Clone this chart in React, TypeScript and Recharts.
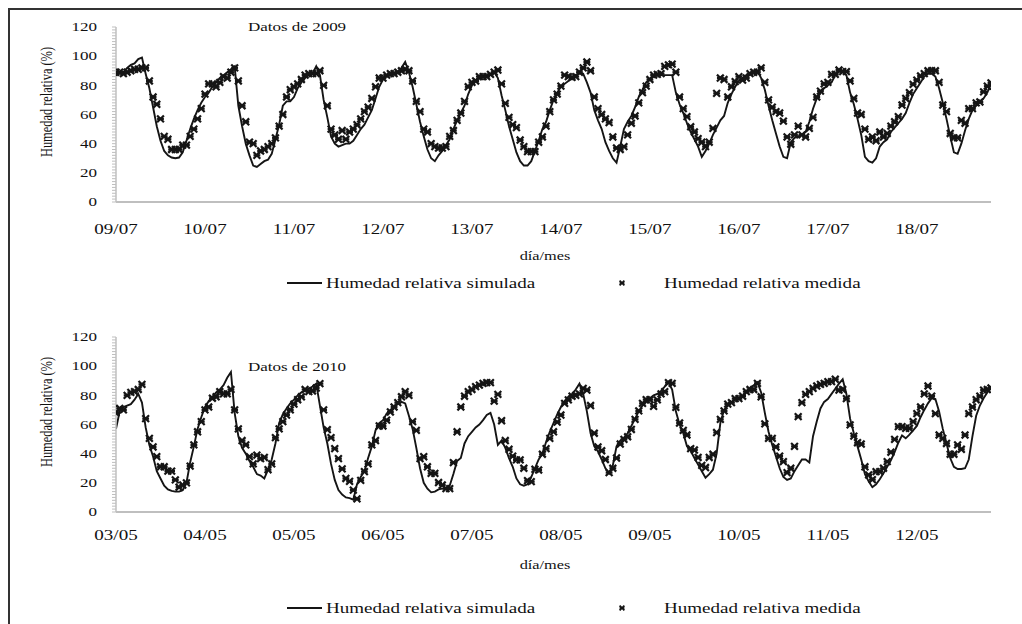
import React from "react";
import { LineChart, Line, XAxis, YAxis } from "recharts";

// hourly values, hour 0 = first day 00:00
const SIM_2009 = [
  89, 89, 89, 92, 94, 95, 98, 99, 88, 78,
  65, 52, 42, 35, 32, 30.5, 30, 30.5, 34, 42,
  50, 57, 63, 68, 72, 75, 79, 82, 85, 87,
  89, 91, 93, 66, 52, 40, 32, 25, 24, 26,
  28, 29, 33, 43, 53, 66, 69, 69, 72, 78,
  82, 85, 87, 88, 93, 87, 70, 58, 45, 40,
  38, 39, 40, 40, 42, 46, 50, 53, 58, 63,
  71, 79, 84, 86, 87, 88, 89, 92, 96, 89,
  79, 67, 55, 45, 36, 30, 28, 32, 35, 39,
  43, 50, 56, 61, 66, 74, 80, 83, 85, 86,
  87, 88, 89, 85, 73, 63, 52, 43, 34, 28,
  25, 25, 28, 35, 42, 50, 55, 63, 70, 75,
  79, 81, 83, 85, 87, 88, 88, 82, 75, 63,
  56, 50, 41, 35, 30, 27, 38, 50, 55, 59,
  65, 72, 77, 82, 84, 86, 87, 87, 87, 87,
  87, 75, 67, 61, 54, 48, 43, 38, 31, 35,
  40, 46, 51, 56, 59, 68, 74, 79, 83, 85,
  87, 88.5, 89.5, 90, 85, 77, 66, 56, 47, 38,
  31, 30, 41, 44, 45, 46, 48, 55, 64, 71,
  75, 78, 80, 82, 87, 89.5, 89.5, 87, 75, 67,
  57, 46, 31, 28, 27, 30, 38, 41, 43, 48,
  51, 54, 57, 61, 68, 74, 78, 82, 86, 88,
  88, 86, 78, 68, 57, 45, 34, 33, 40, 49,
  57, 63, 66, 69, 71, 75, 81,
];

const MED_2009 = [
  89, 89, 88, 89, 90, 91, 91, 92, 92, 83,
  72, 67, 57, 45, 43, 36, 36, 36, 39, 39,
  45, 50, 57, 64, 74, 81, 81, 79, 82, 86,
  85, 89, 92, 83, 66, 55, 41, 40, 32, 35,
  36, 38, 40, 44, 52, 60, 72, 77, 79, 81,
  84, 87, 88, 88, 88, 90, 80, 66, 50, 46,
  43, 49, 43, 48, 50, 53, 57, 62, 65, 71,
  79, 85, 85, 87, 88, 88, 89, 90, 91, 90,
  83, 69, 62, 50, 48, 40, 38, 37, 37, 38,
  45, 49, 56, 61, 69, 79, 82, 83, 86, 86,
  86, 87.5, 89, 90.5, 81, 67.6, 58, 53, 51, 42.5,
  38, 34.5, 34.5, 34.5, 41, 44.6, 52, 62, 70, 74,
  79.5, 87, 86, 85.5, 86, 89, 92, 96, 90, 72,
  64, 60, 57, 54.5, 44.6, 37, 36, 38, 46, 54,
  59, 68, 75, 79.5, 84, 87, 87.5, 88, 93, 94,
  94.5, 89, 72, 64, 58.5, 51.6, 48, 43.5, 41, 38,
  41, 50.5, 74.5, 85, 84, 72, 79, 82.5, 86, 83.6,
  85, 88, 89, 89, 92, 82, 70, 65, 62, 61,
  55.5, 44.6, 39.6, 46, 52, 46, 44.6, 50.5, 58, 72,
  76, 81, 82, 87.5, 87.5, 90.5, 89.4, 89.4, 83, 71,
  61, 60, 50, 43, 44.6, 42, 48, 44.6, 47, 52,
  55, 58.5, 66.5, 71, 75, 80.7, 83.6, 86.4, 88, 90,
  90, 90, 82, 66.5, 62, 47, 44, 44, 56, 54,
  64, 64, 68, 68.6, 75.5, 79.4, 81.7,
];

const SIM_2010 = [
  57, 69, 72, 73, 74, 77, 81, 75, 58, 46,
  38, 28, 23, 18, 15.5, 14.5, 14, 14, 15, 20,
  34, 45, 57, 65, 72, 76, 79, 82, 84, 87,
  92, 96, 68, 52, 44, 40, 35, 31, 26, 25,
  23, 29, 36, 47, 61, 67, 71, 74.5, 77, 80,
  82, 83, 84.5, 86, 88, 73, 58, 47, 33, 22,
  15, 12, 10, 9.5, 8.5, 19, 24, 28, 37, 45,
  56, 61, 63, 67.5, 70, 72, 74, 75.5, 74.5, 66,
  57, 44, 30, 20, 16, 13.5, 14, 15.5, 16, 16,
  18, 26, 35, 37, 47, 52, 55, 58, 60, 63,
  66.5, 68, 60, 46, 49, 44, 37, 31, 23, 19,
  18, 19, 24, 30, 36, 40, 48, 55, 61, 67,
  72, 76, 79, 81, 84, 88, 81, 69, 54, 45,
  41.5, 36, 30, 26.5, 32, 45, 49, 51, 54, 59,
  64, 69, 73, 76, 78, 80, 81, 83, 86, 89,
  84, 69, 60, 54, 45, 42, 37, 32.5, 28, 23.5,
  26, 29, 40, 61, 70, 73, 75, 77, 78, 79,
  82, 85, 87, 89, 82, 68, 55, 46, 38, 30,
  24, 22, 23, 28, 32, 36, 36, 34, 52, 62,
  71, 75.5, 77.5, 81, 84.5, 88, 91, 81, 64, 54,
  45, 36, 26, 21, 17, 19, 22.5, 26.5, 31, 35.5,
  41, 47.5, 52.5, 50.5, 53, 56, 59, 65, 70, 74.5,
  78, 77.5, 69, 57, 47, 37, 31, 29.5, 29.5, 30,
  36, 52, 66, 73, 78, 82, 86,
];

const MED_2010 = [
  68, 71, 70, 80, 82, 82.5, 84, 87.5, 64, 50.5,
  44.6, 38, 31, 31, 28, 28, 22, 17, 18.5, 20,
  31.5, 46, 55, 62, 70, 72, 78, 79, 82.5, 81,
  81, 84, 70, 57, 49, 46, 38, 33, 39, 36.6,
  37.4, 29, 33, 51, 57, 62, 66.5, 70, 74, 77,
  79, 84, 82.5, 83, 85, 88, 70, 56.5, 51, 43.5,
  36.6, 29.6, 23, 21, 15, 9, 21.7, 27.7, 33, 46,
  49, 59, 59, 63, 68.6, 72, 75, 79, 82.5, 80,
  62, 56, 36.6, 37.9, 31, 26.5, 26.5, 20.2, 18.5, 16,
  16, 33.9, 55, 72, 79.4, 82.5, 84, 86, 87, 88.2,
  88.7, 88.7, 76, 80.7, 62.6, 49, 43, 38.3, 35.7, 35.7,
  30, 21.5, 20.8, 29.3, 28.8, 39.6, 43.5, 50.5, 55, 61.7,
  66.5, 74.5, 76.9, 79.4, 80, 81, 84.8, 83.6, 73, 54,
  44.6, 42, 36, 27, 30, 37, 46.6, 49.8, 51.6, 56.6,
  63.5, 69.3, 74.5, 77, 77, 72.5, 76.9, 81, 82.5, 88.7,
  88.2, 71.7, 61, 56, 52.8, 43.5, 42.5, 37.4, 32, 30.5,
  37.4, 39.6, 54.5, 63.5, 69.3, 74, 75, 77.7, 77.7, 79.4,
  82.5, 84, 84, 88.2, 79, 60.4, 50.5, 50.5, 44.6, 38.3,
  34.5, 27, 30, 45, 65.4, 75, 80.7, 82.5, 84.8, 86.4,
  87.5, 88.2, 89.4, 89.4, 91, 83.6, 84, 77.7, 59.7, 52,
  47.5, 46.6, 31, 25.4, 22.2, 27.7, 27.7, 30, 34.5, 41,
  49.8, 58.5, 58.5, 57.4, 57.4, 62, 67.5, 72, 81, 86.4,
  79.4, 67.5, 52.8, 50.5, 47, 39.6, 39.6, 46, 43, 52.8,
  67.5, 72, 77, 79.4, 83.6, 84, 85,
];

const DAYS_2009 = ["09/07", "10/07", "11/07", "12/07", "13/07", "14/07", "15/07", "16/07", "17/07", "18/07"];
const DAYS_2010 = ["03/05", "04/05", "05/05", "06/05", "07/05", "08/05", "09/05", "10/05", "11/05", "12/05"];
const DAY_TICKS = [0, 24, 48, 72, 96, 120, 144, 168, 192, 216];
const Y_TICKS = Array.from({ length: 61 }, (_, i) => i * 2);

const FONT = "'Liberation Serif', 'Times New Roman', serif";
const SX = 1.36; // the picture is stretched sideways
const AXIS = "#bfbfbf";
const INK = "#151515";

function T({ x, y, size, anchor = "start", rotate, children }: any) {
  return (
    <text
      transform={`translate(${x},${y}) scale(${SX},1)${rotate ? ` rotate(${rotate})` : ""}`}
      fontSize={size}
      fontFamily={FONT}
      textAnchor={anchor}
      dominantBaseline="central"
      fill="#111"
    >
      {children}
    </text>
  );
}

function Star({ cx, cy, r = 3.4, w = 2.2 }: any) {
  if (cx == null || cy == null) return null;
  return (
    <g stroke={INK} strokeWidth={w}>
      <line x1={cx - r} y1={cy - r} x2={cx + r} y2={cy + r} />
      <line x1={cx - r} y1={cy + r} x2={cx + r} y2={cy - r} />
      <line x1={cx - r} y1={cy} x2={cx + r} y2={cy} />
    </g>
  );
}

function YTick({ x, y, payload }: any) {
  if (payload.value % 20 !== 0) return <g />;
  return <T x={x} y={y} size={12.5} anchor="end">{payload.value}</T>;
}

function Panel({ sim, med, days, top, title, titleY, labelY, midY, legendY }: any) {
  const data = sim.map((v: number, i: number) => ({ h: i, sim: v, med: med[i] }));
  const XTick = ({ x, payload }: any) => (
    <T x={x} y={labelY} size={14} anchor="middle">
      {days[DAY_TICKS.indexOf(payload.value)]}
    </T>
  );
  return (
    <div style={{ position: "absolute", left: 0, top, width: 1022, height: 310 }}>
      <LineChart width={1022} height={310} data={data} margin={{ top: 27, right: 31, bottom: 78, left: 16 }}>
        <XAxis
          type="number"
          dataKey="h"
          domain={[0, 236]}
          ticks={DAY_TICKS}
          interval={0}
          height={30}
          tickLine={false}
          axisLine={{ stroke: AXIS, strokeWidth: 2 }}
          tick={<XTick />}
          allowDataOverflow
        />
        <YAxis
          type="number"
          domain={[0, 120]}
          ticks={Y_TICKS}
          interval={0}
          width={100}
          tickSize={4}
          tickMargin={15}
          tickLine={{ stroke: AXIS }}
          axisLine={{ stroke: AXIS, strokeWidth: 1.5 }}
          tick={<YTick />}
        />
        <Line dataKey="sim" type="linear" stroke={INK} strokeWidth={1.9} dot={false} activeDot={false} isAnimationActive={false} />
        <Line
          dataKey="med"
          stroke="none"
          dot={(p: any) => <Star key={`m${p.index}`} cx={p.cx} cy={p.cy} />}
          activeDot={false}
          isAnimationActive={false}
        />
      </LineChart>
      <svg width={1022} height={310} style={{ position: "absolute", left: 0, top: 0, pointerEvents: "none" }}>
        <T x={248} y={titleY} size={12.5}>{title}</T>
        <T x={46} y={102} size={12.4} anchor="middle" rotate={-90}>Humedad relativa (%)</T>
        <T x={545} y={midY} size={12} anchor="middle">día/mes</T>
        <line x1={287} x2={322} y1={legendY} y2={legendY} stroke={INK} strokeWidth={2} />
        <T x={326} y={legendY} size={14}>Humedad relativa simulada</T>
        <Star cx={622} cy={legendY} r={2.4} w={1.8} />
        <T x={664} y={legendY} size={14}>Humedad relativa medida</T>
      </svg>
    </div>
  );
}

export default function App() {
  return (
    <div style={{ position: "fixed", left: 0, top: 0, width: 1022, height: 624, background: "#fff", overflow: "hidden" }}>
      <div
        style={{
          position: "absolute",
          left: 8,
          top: 8,
          width: 1020,
          height: 630,
          borderLeft: "2px solid #333",
          borderTop: "2px solid #333",
          boxSizing: "border-box",
        }}
      />
      <Panel sim={SIM_2009} med={MED_2009} days={DAYS_2009} top={0} title="Datos de 2009" titleY={27} labelY={229} midY={256} legendY={283} />
      <Panel sim={SIM_2010} med={MED_2010} days={DAYS_2010} top={310} title="Datos de 2010" titleY={57} labelY={225} midY={255} legendY={298} />
    </div>
  );
}
